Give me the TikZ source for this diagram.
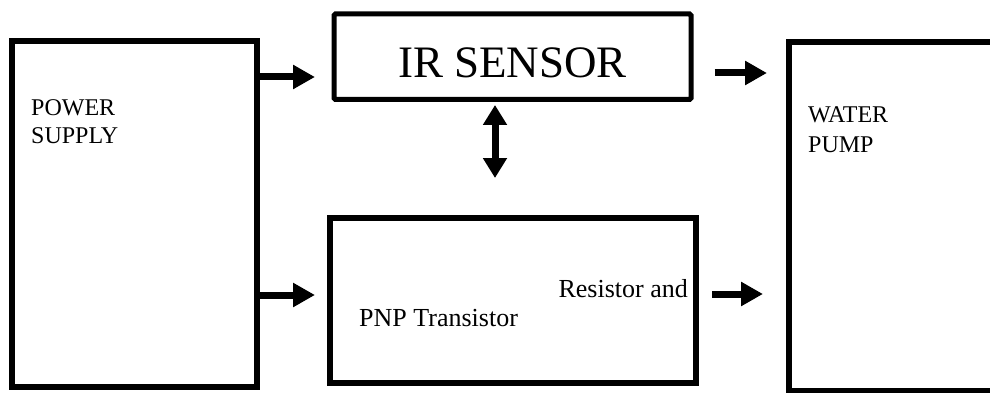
\documentclass[tikz,border=0pt]{standalone}
\usepackage{fontspec}
\setmainfont{Liberation Serif}
\usetikzlibrary{positioning, arrows.meta}

\tikzset{
  block/.style={draw, line width=6pt, inner sep=0pt},
  flow/.style={line width=7pt, -{Triangle[length=22pt,width=23pt]}},
  flowboth/.style={line width=7pt, {Triangle[length=20pt,width=23pt]}-{Triangle[length=20pt,width=23pt]}},
  txt/.style={inner sep=0pt, align=left}
}

\begin{document}
\begin{tikzpicture}[x=1pt, y=-1pt]
      \clip (0,0) rectangle (990,393);

      % blocks
      \node[block, minimum width=245pt, minimum height=346pt] (power) at (134.5,214) {};
      \node[block, line width=5pt, rounded corners=1.5pt, minimum width=357pt, minimum height=85.5pt] (ir) at (512.5,56.75) {};
      \node[block, minimum width=366pt, minimum height=165pt] (ctrl) at (513,300.5) {};
      \node[block, minimum width=211pt, minimum height=349pt] (pump) at (894.5,216.5) {};

      % texts
      \node[txt, anchor=base west, font=\fontsize{24}{28}\selectfont] (powertxt) at ([xshift=22pt, yshift=-105pt]power.north west) {POWER\\SUPPLY};
      \node[txt, anchor=base, font=\fontsize{45}{45}\selectfont] (irtxt) at ([yshift=-66pt]ir.north) {IR SENSOR};
      \node[txt, anchor=base east, font=\fontsize{26}{26}\selectfont] (restxt) at ([xshift=-11pt, yshift=-82pt]ctrl.north east) {Resistor and};
      \node[txt, anchor=base west, font=\fontsize{26}{26}\selectfont] (pnptxt) at ([xshift=32pt, yshift=-111pt]ctrl.north west) {PNP Transistor};
      \node[txt, anchor=base west, font=\fontsize{24}{30}\selectfont] (pumptxt) at ([xshift=22pt, yshift=-114pt]pump.north west) {WATER\\PUMP};

      % arrow tips
      \coordinate (t1) at (315,77);
      \coordinate (t2) at (315,295);
      \coordinate (t3) at (767,73);
      \coordinate (t4) at (763,294);
      \coordinate (t5) at (495,178);

      % connectors
      \draw[flow] (power.east |- t1) -- (t1);
      \draw[flow] (power.east |- t2) -- (t2);
      \draw[flow, shorten <=21pt] (ir.east |- t3) -- (t3);
      \draw[flow, shorten <=13pt] (ctrl.east |- t4) -- (t4);
      \draw[flowboth, shorten <=3pt] (ir.south -| t5) -- (t5);
\end{tikzpicture}
\end{document}
